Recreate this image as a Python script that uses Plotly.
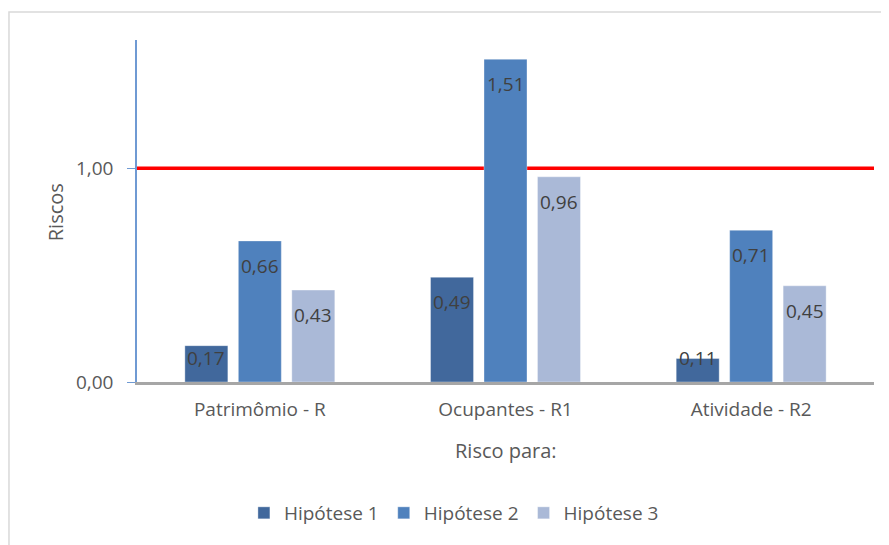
import plotly.graph_objects as go

categories = ["Patrimômio - R", "Ocupantes - R1", "Atividade - R2"]
hipotese_1 = [0.17, 0.49, 0.11]
hipotese_2 = [0.66, 1.51, 0.71]
hipotese_3 = [0.43, 0.96, 0.45]
series_names = ["Hipótese 1", "Hipótese 2", "Hipótese 3"]
tick_values = [0, 1]
limit_value = 1.0

colors = ["#41689C", "#4F81BD", "#AAB9D7"]
FONT = "'Open Sans', 'Noto Sans', sans-serif"

W, H = 889, 545
M_L, M_R, M_T, M_B = 129, 23, 32, 171
Y_MAX = 1.6
BARGAP, GROUPGAP = 0.347, 0.196
plot_h = H - M_T - M_B
px_per_unit = plot_h / Y_MAX

series = [hipotese_1, hipotese_2, hipotese_3]
fig = go.Figure()
for name, vals, col in zip(series_names, series, colors):
    fig.add_trace(go.Bar(
        name=name, x=categories, y=vals,
        marker=dict(color=col, line=dict(color="rgba(255,255,255,0.35)", width=1)),
        hoverinfo="x+y",
    ))

# data labels ("inside end" style)
slot = (1 - BARGAP) / len(series)
for k, vals in enumerate(series):
    for i, v in enumerate(vals):
        bar_px = v * px_per_unit
        shift = min(25, max(0, bar_px - 24))
        fig.add_annotation(x=i + (k - (len(series) - 1) / 2) * slot, y=v, xref="x", yref="y",
                           text=f"{v:.2f}".replace(".", ","), showarrow=False,
                           yanchor="middle", xanchor="center", yshift=-shift,
                           font=dict(color="#404040", size=19, family=FONT))

# red limit line
fig.add_shape(type="line", xref="paper", yref="y", x0=0, x1=1, y0=limit_value, y1=limit_value,
              line=dict(color="#FF0000", width=3.5), layer="below")
# chart border
fig.add_shape(type="rect", xref="paper", yref="paper", x0=-0.1737, x1=1.3, y0=-0.7, y1=1.0819,
              line=dict(color="#D9D9D9", width=1.5), layer="below")

fig.add_annotation(text="Riscos", xref="paper", yref="paper", x=-0.111, y=0.497,
                   xanchor="center", yanchor="middle",
                   textangle=-90, showarrow=False, font=dict(size=20, color="#595959", family=FONT))
fig.add_annotation(text="Risco para:", xref="paper", yref="paper", x=0.5, y=-0.199,
                   xanchor="center", yanchor="middle",
                   showarrow=False, font=dict(size=20, color="#595959", family=FONT))

fig.update_layout(
    width=W, height=H,
    margin=dict(l=M_L, r=M_R, t=M_T, b=M_B),
    paper_bgcolor="white", plot_bgcolor="white",
    separators=",.",
    barmode="group", bargap=BARGAP, bargroupgap=GROUPGAP,
    font=dict(family=FONT, color="#595959", size=19),
    showlegend=True,
    legend=dict(orientation="h", x=0.43, xanchor="center", y=-0.383, yanchor="middle",
                itemwidth=30, font=dict(size=19, color="#595959", family=FONT),
                traceorder="normal"),
    xaxis=dict(showline=True, linecolor="#A6A6A6", linewidth=2.5, ticks="outside", ticklen=8,
               tickcolor="rgba(0,0,0,0)", tickfont=dict(size=19, color="#595959"), showgrid=False),
    yaxis=dict(range=[0, Y_MAX], tickvals=tick_values, tickformat=".2f", showgrid=False, zeroline=False,
               showline=True, linecolor="#6F9AD3", linewidth=1.5, ticks="outside", ticklen=8,
               tickcolor="#6F9AD3", ticklabelstandoff=10, tickfont=dict(size=19, color="#595959")),
)

fig.write_html("out.html")
